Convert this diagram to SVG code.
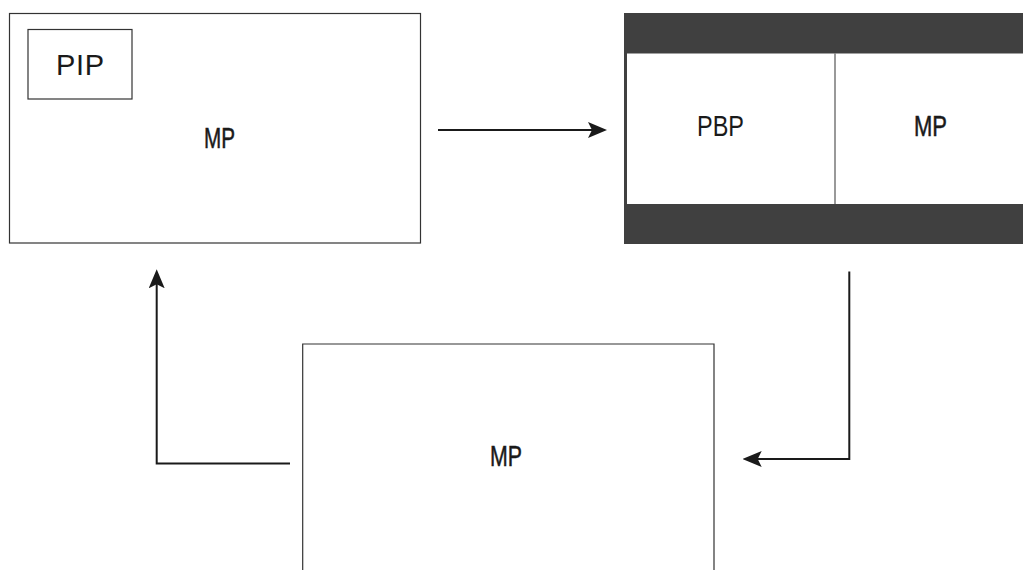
<svg xmlns="http://www.w3.org/2000/svg" width="1023" height="570" viewBox="0 0 1023 570">
<style>
.box{fill:#fff;stroke:#333;stroke-width:1.2}
.lbl{font-family:"Liberation Sans",Arial,sans-serif;font-size:29px;fill:#1a1a1a;text-anchor:middle}
.bold{stroke:#1a1a1a;stroke-width:0.5}
.conn{fill:none;stroke:#1a1a1a;stroke-width:2}
</style>
<defs>
<marker id="ah" viewBox="0 0 19 16" refX="15" refY="8" markerWidth="19" markerHeight="16" markerUnits="userSpaceOnUse" orient="auto">
<path d="M0,0 L19,8 L0,16 L4,8 z" fill="#1a1a1a"/>
</marker>
</defs>
<rect width="1023" height="570" fill="#fff"/>
<g id="node-pip-screen">
<rect class="box" x="9.5" y="13.5" width="411" height="229.5"/>
<rect class="box" x="28" y="29.5" width="104" height="69.5"/>
<text class="lbl" x="80" y="75" textLength="48" lengthAdjust="spacing">PIP</text>
<text class="lbl bold" x="219.5" y="148" textLength="31" lengthAdjust="spacingAndGlyphs">MP</text>
</g>
<g id="node-pbp-screen">
<rect x="624" y="13" width="399" height="231" fill="#404040"/>
<rect x="627" y="53.5" width="396" height="150.5" fill="#fff"/>
<line x1="835" y1="53.5" x2="835" y2="204" stroke="#555" stroke-width="1.2"/>
<text class="lbl" x="720.5" y="136" textLength="47" lengthAdjust="spacingAndGlyphs">PBP</text>
<text class="lbl bold" x="930.5" y="136" textLength="33" lengthAdjust="spacingAndGlyphs">MP</text>
</g>
<g id="node-mp-screen">
<path class="box" d="M302.7,571 V344 H714 V571"/>
<text class="lbl bold" x="506" y="466" textLength="32" lengthAdjust="spacingAndGlyphs">MP</text>
</g>
<g id="connectors">
<path class="conn" d="M438,130 H603" marker-end="url(#ah)"/>
<path class="conn" d="M849.3,271.5 V459 H746.7" marker-end="url(#ah)"/>
<path class="conn" d="M290,463.5 H156.7 V273.3" marker-end="url(#ah)"/>
</g>
</svg>
